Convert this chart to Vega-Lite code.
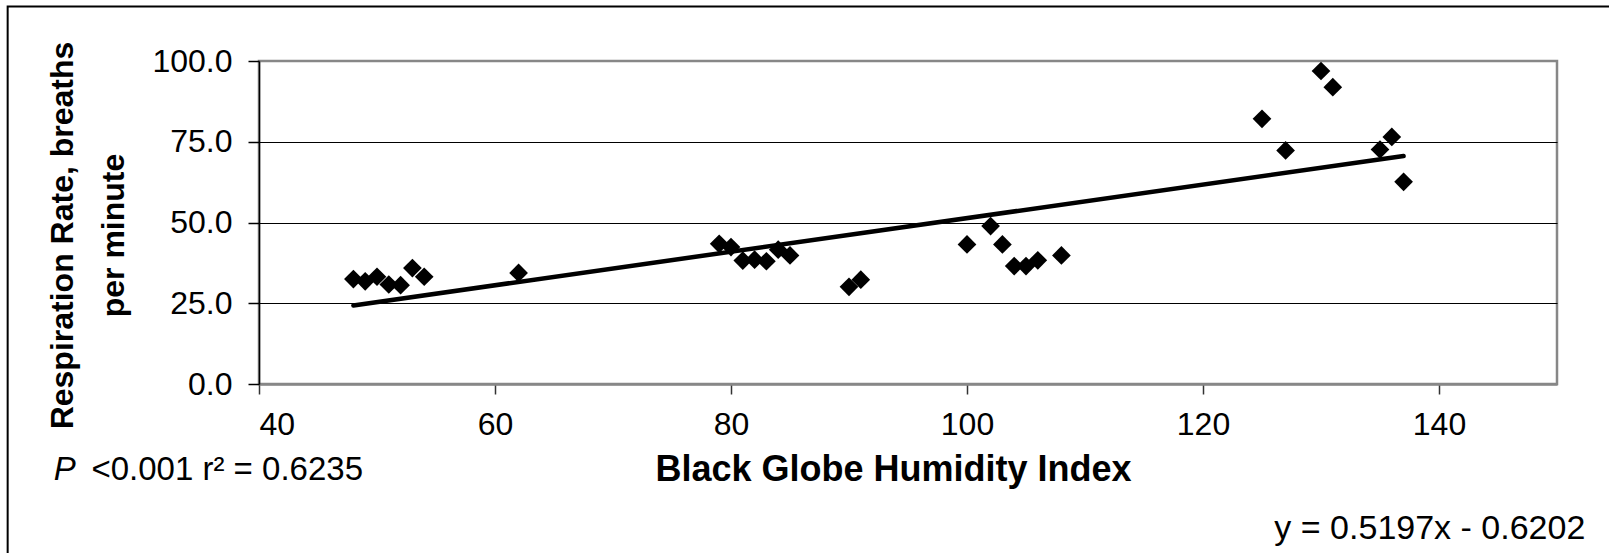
{
  "$schema": "https://vega.github.io/schema/vega-lite/v6.json",
  "autosize": {"type": "none"},
  "width": 1298,
  "height": 323,
  "padding": {"left": 259, "top": 61, "right": 52, "bottom": 169},
  "background": "white",
  "config": {
    "font": "Liberation Sans",
    "view": {"stroke": "#878787", "strokeWidth": 2.5},
    "axis": {"labelColor": "black", "titleColor": "black", "labelFont": "Liberation Sans", "titleFont": "Liberation Sans"}
  },
  "datasets": {
    "points": [
      {"bghi": 48, "rr": 32.5}, {"bghi": 49, "rr": 31.8}, {"bghi": 50, "rr": 33.2}, {"bghi": 51, "rr": 30.8},
      {"bghi": 52, "rr": 30.6}, {"bghi": 53, "rr": 35.9}, {"bghi": 54, "rr": 33.2}, {"bghi": 62, "rr": 34.4},
      {"bghi": 79, "rr": 43.4}, {"bghi": 80, "rr": 42.4}, {"bghi": 81, "rr": 38.2}, {"bghi": 82, "rr": 38.5},
      {"bghi": 83, "rr": 38.0}, {"bghi": 84, "rr": 41.6}, {"bghi": 85, "rr": 39.8},
      {"bghi": 90, "rr": 30.1}, {"bghi": 91, "rr": 32.3}, {"bghi": 100, "rr": 43.2}, {"bghi": 102, "rr": 48.9},
      {"bghi": 103, "rr": 43.2}, {"bghi": 104, "rr": 36.5}, {"bghi": 105, "rr": 36.5}, {"bghi": 106, "rr": 38.3},
      {"bghi": 108, "rr": 39.8}, {"bghi": 125, "rr": 82.1}, {"bghi": 127, "rr": 72.3}, {"bghi": 130, "rr": 96.9},
      {"bghi": 131, "rr": 91.9}, {"bghi": 135, "rr": 72.6}, {"bghi": 136, "rr": 76.5}, {"bghi": 137, "rr": 62.6}
    ],
    "trend": [
      {"bghi": 48, "rr": 24.33},
      {"bghi": 137, "rr": 70.58}
    ]
  },
  "layer": [
    {
      "data": {"values": [{"k": "frame"}]},
      "mark": {"type": "rect", "fill": null, "filled": false, "stroke": "black", "strokeWidth": 2, "clip": false},
      "encoding": {
        "x": {"datum": 18.7, "type": "quantitative"},
        "x2": {"datum": 156},
        "y": {"datum": 116.9, "type": "quantitative"},
        "y2": {"datum": -60}
      }
    },
    {
      "data": {"name": "trend"},
      "mark": {"type": "line", "color": "black", "strokeWidth": 4.5, "strokeCap": "round"},
      "encoding": {
        "x": {
          "field": "bghi", "type": "quantitative",
          "scale": {"domain": [40, 150], "nice": false, "zero": false},
          "axis": {
            "values": [40, 60, 80, 100, 120, 140],
            "grid": false,
            "domainColor": "#878787", "domainWidth": 2.5,
            "tickColor": "#333333", "tickSize": 10, "tickWidth": 1.5,
            "labelFontSize": 32, "labelPadding": 15,
            "title": "Black Globe Humidity Index",
            "titleFontSize": 36, "titleFontWeight": "bold",
            "titleBaseline": "alphabetic", "titleY": 96, "titleX": 634
          }
        },
        "y": {
          "field": "rr", "type": "quantitative",
          "scale": {"domain": [0, 100], "nice": false, "zero": false},
          "axis": {
            "values": [0, 25, 50, 75, 100],
            "format": ".1f",
            "grid": true,
            "gridColor": {"condition": {"test": "datum.value === 0 || datum.value === 100", "value": "transparent"}, "value": "black"},
            "gridWidth": 1.2,
            "domainColor": "black", "domainWidth": 1.5,
            "tickColor": "black", "tickSize": 11, "tickWidth": 1.5,
            "labelFontSize": 32, "labelPadding": 16,
            "title": ["Respiration Rate, breaths", "per minute"],
            "titleFontSize": 32, "titleFontWeight": "bold",
            "titleLineHeight": 51,
            "titleAngle": 270, "titleBaseline": "bottom", "titleAlign": "center",
            "titleX": -180, "titleY": 174
          }
        }
      }
    },
    {
      "data": {"name": "points"},
      "mark": {"type": "point", "shape": "diamond", "filled": true, "color": "black", "opacity": 1, "size": 350},
      "encoding": {
        "x": {"field": "bghi", "type": "quantitative"},
        "y": {"field": "rr", "type": "quantitative"}
      }
    },
    {
      "data": {"values": [{"label": "P"}]},
      "mark": {"type": "text", "align": "left", "baseline": "alphabetic", "fontSize": 33, "fontStyle": "italic", "color": "black", "clip": false},
      "encoding": {
        "text": {"field": "label"},
        "x": {"datum": 22.6, "type": "quantitative"},
        "y": {"datum": -29.7, "type": "quantitative"}
      }
    },
    {
      "data": {"values": [{"label": "<0.001 r² = 0.6235"}]},
      "mark": {"type": "text", "align": "left", "baseline": "alphabetic", "fontSize": 33, "color": "black", "clip": false},
      "encoding": {
        "text": {"field": "label"},
        "x": {"datum": 25.8, "type": "quantitative"},
        "y": {"datum": -29.7, "type": "quantitative"}
      }
    },
    {
      "data": {"values": [{"label": "y = 0.5197x - 0.6202"}]},
      "mark": {"type": "text", "align": "right", "baseline": "alphabetic", "fontSize": 34, "color": "black", "clip": false},
      "encoding": {
        "text": {"field": "label"},
        "x": {"datum": 152.4, "type": "quantitative"},
        "y": {"datum": -48.0, "type": "quantitative"}
      }
    }
  ]
}
